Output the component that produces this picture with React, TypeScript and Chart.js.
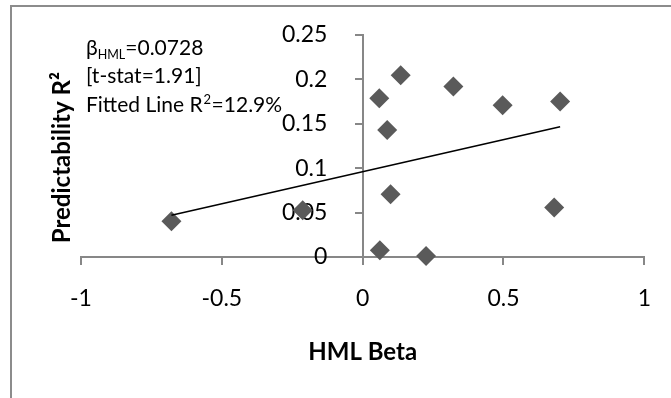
import { useEffect, useRef } from 'react';
import { Chart, registerables } from 'chart.js';

Chart.register(...registerables);

// ---- data ----
const hmlBeta = [-0.679, -0.213, 0.059, 0.135, 0.322, 0.087, 0.497, 0.701, 0.099, 0.68, 0.061, 0.225];
const predictabilityR2 = [0.0403, 0.0527, 0.1788, 0.2047, 0.1919, 0.143, 0.1709, 0.175, 0.0708, 0.0557, 0.0076, 0.0011];
const fitLineX = [-0.679, 0.701];
const fitLineY = [0.047, 0.1467];
const xTickValues = [-1, -0.5, 0, 0.5, 1];
const yTickValues = [0, 0.05, 0.1, 0.15, 0.2, 0.25];
const xTitle = 'HML Beta';
const yTitle = 'Predictability R²';
const statBeta = '=0.0728';
const statT = '[t-stat=1.91]';
const statFitA = 'Fitted Line R';
const statFitB = '=12.9%';

const FONT = 'Lato';
const AXIS = '#878787';
const W = 671;
const H = 398;
const NBSP = '\u00A0';

const annotationPlugin = {
  id: 'statsAnnotation',
  afterDatasetsDraw(chart: any) {
    const ctx = chart.ctx as CanvasRenderingContext2D;
    const { left, top } = chart.chartArea;
    ctx.save();
    ctx.fillStyle = '#000';
    ctx.textAlign = 'left';
    ctx.textBaseline = 'alphabetic';
    const main = `21px ${FONT}`;
    const small = `12.5px ${FONT}`;
    // line 1: beta with subscript
    let x = left + 5;
    ctx.font = main;
    ctx.fillText('β', x, top + 20);
    x += ctx.measureText('β').width;
    ctx.font = small;
    ctx.fillText('HML', x, top + 24);
    x += ctx.measureText('HML').width;
    ctx.font = main;
    ctx.fillText(statBeta, x, top + 20);
    // line 2
    ctx.fillText(statT, left + 5, top + 48);
    // line 3 with superscript
    x = left + 5;
    const y3 = top + 76.5;
    ctx.fillText(statFitA, x, y3);
    x += ctx.measureText(statFitA).width + 1;
    ctx.font = `13px ${FONT}`;
    ctx.fillText('2', x, y3 - 8);
    x += ctx.measureText('2').width + 0.5;
    ctx.font = main;
    ctx.fillText(statFitB, x, y3);
    ctx.restore();
  },
};

export default function App() {
  const ref = useRef<HTMLCanvasElement>(null);

  useEffect(() => {
    if (!ref.current) return;
    const tickFont = { family: FONT, size: 23 };
    const titleFont = { family: FONT, size: 24, weight: 'bold' as const };
    const chart = new Chart(ref.current, {
      type: 'scatter',
      data: {
        datasets: [
          {
            type: 'line',
            label: 'fit',
            data: fitLineX.map((x, i) => ({ x, y: fitLineY[i] })),
            borderColor: '#000',
            borderWidth: 1.6,
            pointRadius: 0,
            fill: false,
            xAxisID: 'x',
            yAxisID: 'y',
            clip: false as any,
          },
          {
            label: 'points',
            data: hmlBeta.map((x, i) => ({ x, y: predictabilityR2[i] })),
            pointStyle: 'rectRot',
            pointRadius: 10,
            backgroundColor: '#5a5a5a',
            borderWidth: 0,
            xAxisID: 'x',
            yAxisID: 'y',
            clip: false as any,
          },
        ],
      },
      options: {
        animation: false,
        responsive: false,
        devicePixelRatio: 1,
        layout: { padding: { top: 35, right: 0, bottom: 0, left: 0 } },
        plugins: { legend: { display: false }, tooltip: { enabled: false } },
        scales: {
          yTitle: {
            type: 'linear',
            axis: 'y',
            position: 'left',
            ticks: { display: false },
            grid: { display: false, drawTicks: false },
            border: { display: false },
            title: {
              display: true,
              text: yTitle + NBSP.repeat(4),
              color: '#000',
              font: titleFont,
              padding: { top: 47.6, bottom: 0 },
            },
            afterFit: (s: any) => {
              s.width = 81;
            },
          } as any,
          x: {
            type: 'linear',
            position: 'bottom',
            min: -1,
            max: 1,
            afterBuildTicks: (s: any) => {
              s.ticks = xTickValues.map((v) => ({ value: v }));
            },
            ticks: {
              font: tickFont,
              color: '#000',
              padding: 20,
              maxRotation: 0,
              autoSkip: false,
              callback: (v: any) => String(v),
            },
            grid: {
              display: true,
              drawOnChartArea: false,
              drawTicks: true,
              tickLength: 8,
              color: AXIS,
              lineWidth: 2,
            },
            border: { display: true, color: AXIS, width: 2 },
            title: {
              display: true,
              text: xTitle,
              color: '#000',
              font: titleFont,
              padding: { top: 0, bottom: 31 },
            },
            afterFit: (s: any) => {
              s.height = H - 257;
            },
          },
          y: {
            type: 'linear',
            position: { x: 0 } as any,
            min: 0,
            max: 0.25,
            afterBuildTicks: (s: any) => {
              s.ticks = yTickValues.map((v) => ({ value: v }));
            },
            ticks: {
              font: tickFont,
              color: '#000',
              callback: (v: any) => String(v) + NBSP.repeat(6),
            },
            grid: {
              display: true,
              drawOnChartArea: false,
              drawTicks: true,
              tickLength: 7,
              color: AXIS,
              lineWidth: 2,
            },
            border: { display: true, color: AXIS, width: 2 },
            afterFit: (s: any) => {
              s.width = 0;
            },
          },
        },
      },
      plugins: [annotationPlugin],
    });
    return () => chart.destroy();
  }, []);

  return (
    <div style={{ position: 'absolute', left: 0, top: 0, width: W, height: H, overflow: 'hidden', background: '#fff' }}>
      <div
        style={{
          position: 'absolute',
          left: 10,
          top: 5,
          width: 1200,
          height: 1200,
          border: '2px solid #8c8c8c',
        }}
      />
      <canvas ref={ref} width={W} height={H} style={{ position: 'absolute', left: 0, top: 0, width: W, height: H }} />
    </div>
  );
}
